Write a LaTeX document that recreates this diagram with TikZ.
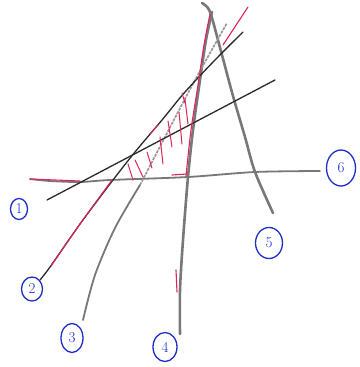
\documentclass[tikz,border=0pt]{standalone}
\usetikzlibrary{shapes.geometric}
\definecolor{pgray}{HTML}{787878}
\definecolor{lgray}{HTML}{9A9A9A}
\definecolor{pdark}{HTML}{2A2A2A}
\definecolor{pred}{HTML}{E02458}
\definecolor{pblue}{HTML}{1E2EC8}
\begin{document}
\begin{tikzpicture}[x=1pt,y=-1pt,
  thickgray/.style={draw=pgray, line width=2.6pt, line cap=round, line join=round},
  midgray/.style={draw=pgray, line width=1.8pt, line cap=round, line join=round},
  dashgray/.style={draw=lgray, line width=1.7pt, dash pattern=on 3pt off 1pt},
  blackline/.style={draw=pdark, line width=1.3pt, line cap=round, line join=round},
  redline/.style={draw=pred, line width=1.1pt, line cap=round},
  hatch/.style={draw=pred, line width=1pt, line cap=round},
  lbl/.style={ellipse, draw=pblue, line width=1.3pt, text=pblue, inner sep=0pt,
              font=\fontsize{15}{15}\selectfont}]
\fill[white] (0,0) rectangle (359,367);
\useasboundingbox (0,0) rectangle (359,367);

% line 6 (horizontal)
\draw[midgray] plot[smooth] coordinates {(30,179) (50,181) (80,182) (110,180) (188,177) (255,172) (320,171)};
% line 5
\draw[thickgray] plot[smooth] coordinates {(202,3) (208,8) (212,18) (222,55) (233,96) (245,137) (255,172) (273,213)};
% line 4
\draw[thickgray] plot[smooth] coordinates {(180,334) (180,290) (183,240) (188,177) (193,130) (200,80) (206,40) (212,12)};
% line 3
\draw[midgray] plot[smooth] coordinates {(83,320) (95,275) (115,228) (140,185)};
\draw[dashgray] plot[smooth] coordinates {(140,185) (165,137) (187,95) (205,62) (227,23)};
% line 2
\draw[blackline] plot[smooth] coordinates {(40,280) (50,267) (80,224) (113,180) (135,152) (162,120) (185,92) (215,60) (243,32)};
% line 1
\draw[blackline] (47,200) -- (275,80);

% red overlays
\draw[redline] plot[smooth] coordinates {(51,266) (80,224) (112,180)};
\draw[redline] (30,179) -- (80,181);
\draw[redline] (150,134) -- (158,125);
\draw[redline] plot[smooth] coordinates {(186,176) (191,130) (198,85) (204,45) (210,14)};
\draw[redline] (176,270) -- (177,292);
\draw[redline] (248,7) -- (223,45);
\draw[redline] (172,175) -- (187,174);
% hatching
\draw[hatch] (128,164) -- (133,180);
\draw[hatch] (135,160) -- (143,177);
\draw[hatch] (147,152) -- (152,168);
\draw[hatch] (160,137) -- (163,164);
\draw[hatch] (168,121) -- (172,147);
\draw[hatch] (179,112) -- (182,144);
\draw[hatch] (185,99) -- (188,124);
\draw[hatch] (182,93) -- (185,103);

% labels
\node[lbl, minimum width=17pt, minimum height=21pt] (l1) at (19,209) {1};
\node[lbl, minimum width=21pt, minimum height=24pt] (l2) at (32,289) {2};
\node[lbl, minimum width=22pt, minimum height=29pt] (l3) at (72,338) {3};
\node[lbl, minimum width=24pt, minimum height=29pt] (l4) at (165,347) {4};
\node[lbl, minimum width=27pt, minimum height=31pt] (l5) at (269,243) {5};
\node[lbl, minimum width=29pt, minimum height=36pt] (l6) at (341,168) {6};
\end{tikzpicture}
\end{document}
